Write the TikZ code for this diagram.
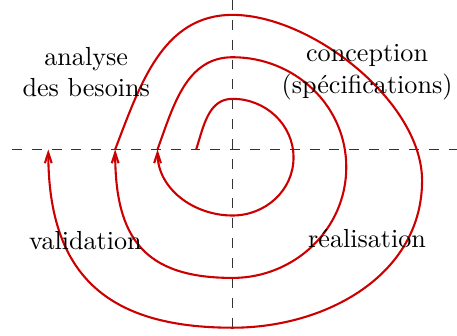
\documentclass[tikz,border=0pt]{standalone}
\usepackage{fontspec}
\usepackage{tikz}
\usetikzlibrary{arrows.meta}
\tikzstyle{axis}=[black!80, semithick, dash pattern=on 3.8pt off 3.8pt]
\tikzstyle{spiral}=[red!80!black, thick, -{Straight Barb[length=4pt,width=2.6pt]}]
\tikzstyle{phase}=[align=center]

\begin{document}
\begin{tikzpicture}
				\useasboundingbox (-3.13,-2.51) rectangle (3.02,2.01);
				\draw[axis] (-2.97,0) -- (3.02,0);
				\draw[axis] (0,2.01) -- (0,-2.51);
				% inner turn
				\draw[spiral] (-0.49,0) to[out=72,in=180] (0,0.68) to[out=0,in=90] (0.82,-0.11)
					to[out=-90,in=0] (0,-0.89) to[out=180,in=-90] (-1.01,0);
				% middle turn
				\draw[spiral] (-1.01,0) to[out=70,in=180] (0,1.24) to[out=0,in=90] (1.53,-0.24)
					to[out=-90,in=0] (0,-1.73) to[out=180,in=-90,looseness=1.3] (-1.58,0);
				% outer turn
				\draw[spiral] (-1.58,0) to[out=69,in=180] (0,1.81) to[out=0,in=90,looseness=0.8] (2.55,-0.42)
					to[out=-90,in=0] (0,-2.40) to[out=180,in=-90,looseness=1.25] (-2.48,0);
				\node[phase] (analyse) at (-1.97,1.04) {analyse\\des besoins};
				\node[phase] (conception) at (1.81,1.04) {conception\\(spécifications)};
				\node[phase] (validation) at (-1.98,-1.23) {validation};
				\node[phase] (realisation) at (1.81,-1.20) {réalisation};
			\end{tikzpicture}
\end{document}
